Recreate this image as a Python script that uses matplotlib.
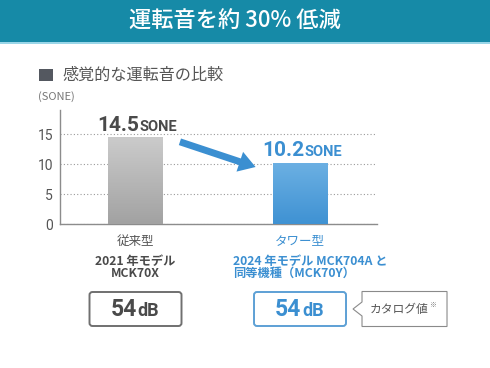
import numpy as np
import matplotlib
matplotlib.use('Agg')
from matplotlib import pyplot as plt
from matplotlib.colors import LinearSegmentedColormap
from matplotlib.patches import Rectangle, FancyBboxPatch, Polygon

plt.rcParams['font.family'] = ['Noto Sans CJK JP', 'DejaVu Sans']

TITLE = '運転音を約 30% 低減'
SUBTITLE = '感覚的な運転音の比較'
UNIT = '(SONE)'
categories = ['従来型', 'タワー型']
models = [['2021 年モデル', 'MCK70X'], ['2024 年モデル MCK704A と', '同等機種（MCK70Y）']]
sone = [14.5, 10.2]
db = [54, 54]
yticks = [0, 5, 10, 15]
note = 'カタログ値'

DARK = '#4a4a4a'
BLUE = '#3b8fd1'
HEAD = '#168aa7'
bar_grad = [('#cbcbcb', '#a2a2a2'), ('#6cb0e3', '#3f92d3')]
txt_col = [DARK, BLUE]
box_edge = ['#707070', '#5da0d5']
model_align = ['center', 'left']

W, H = 490, 368
fig = plt.figure(figsize=(W / 100, H / 100), dpi=100)
bg = fig.add_axes([0, 0, 1, 1])
bg.set_xlim(0, W)
bg.set_ylim(H, 0)
bg.axis('off')

# header band
bg.add_patch(Rectangle((0, 0), W, 42, color=HEAD, lw=0))
bg.add_patch(Rectangle((0, 42), W, 2, color='#9ad6e8', lw=0))
bg.text(235, 21, TITLE, color='white', fontsize=16, ha='center', va='center',
        fontweight='medium')

bg.add_patch(Rectangle((39, 69), 14, 12, color='#545860', lw=0))
bg.text(62, 75, SUBTITLE, fontsize=11.6, color='#555555', va='center')
bg.text(38, 97, UNIT, fontsize=8, color='#777777', va='center')

# chart
ax = fig.add_axes([60 / W, 1 - 224 / H, 317 / W, 114 / H])
ax.patch.set_alpha(0)
x = np.arange(len(categories))
xlim = (-0.459, 1.468)
ylim = (0, 19)

bars = ax.bar(x, sone, width=0.334, color=[c[1] for c in bar_grad], zorder=2)
grad = np.linspace(0, 1, 100).reshape(-1, 1)
for b, (top, bot) in zip(bars, bar_grad):
    cmap = LinearSegmentedColormap.from_list('g', [top, bot])
    im = ax.imshow(grad, cmap=cmap, aspect='auto', zorder=3,
                   extent=[b.get_x(), b.get_x() + b.get_width(), 0, b.get_height()])
    im.set_clip_path(b)

ax.set_xlim(*xlim)
ax.set_ylim(*ylim)
ax.set_yticks(yticks)
ax.set_xticks([])
ax.tick_params(axis='y', length=0, pad=5, labelsize=10, labelcolor='#555555')
for lab in ax.get_yticklabels():
    lab.set_family('Roboto')
ax.grid(axis='y', linestyle=(0, (1, 2)), color='#9a9a9a', lw=0.8, zorder=1)
for s in ['top', 'right']:
    ax.spines[s].set_visible(False)
for s in ['left', 'bottom']:
    ax.spines[s].set_color('#8c8c8c')
    ax.spines[s].set_linewidth(1)

for xi, v, c in zip(x, sone, txt_col):
    ax.annotate(f'{v}', xy=(xi, v), xytext=(4, 6.5), textcoords='offset pixels',
                ha='right', va='baseline', fontsize=15, fontweight='bold',
                family='Roboto', color=c, zorder=5)
    ax.annotate('SONE', xy=(xi, v), xytext=(4, 6.5), textcoords='offset pixels',
                ha='left', va='baseline', fontsize=10.5, fontweight='bold',
                family='Roboto', color=c, zorder=5)

# arrow between the bars
ax.annotate('', xy=(x[1] - 0.27, sone[1] - 0.7), xytext=(x[0] + 0.27, sone[0] - 0.8),
            arrowprops=dict(arrowstyle='simple,head_length=1.2,head_width=1.5,tail_width=0.5',
                            color=BLUE, lw=0, mutation_scale=10, shrinkA=0, shrinkB=0),
            zorder=6)

# labels and dB boxes below
cx = [ax.transData.transform((xi, 0))[0] for xi in x]
for i, c in enumerate(cx):
    col = txt_col[i]
    bg.text(c, 241, categories[i], fontsize=9, color='#555555' if i == 0 else BLUE,
            ha='center', va='center')
    tx = c if model_align[i] == 'center' else c - 67
    for j, line in enumerate(models[i]):
        bg.text(tx, 262 + j * 11.5, line, fontsize=8.8, fontweight='bold', color=col,
                ha=model_align[i], va='center')
    bg.add_patch(FancyBboxPatch((c - 46, 292), 92, 34,
                                boxstyle='round,pad=0,rounding_size=3',
                                fc='white', ec=box_edge[i], lw=1.4))
    bg.text(c + 1, 316.5, f'{db[i]}', fontsize=16.5, fontweight='bold', family='Roboto',
            color=col, ha='right', va='baseline')
    bg.text(c + 2, 316.5, 'dB', fontsize=13, fontweight='bold', family='Roboto',
            color=col, ha='left', va='baseline')

# catalog callout
ap = cx[1] + 53
cl = ap + 9
bg.add_patch(Polygon([(cl, 291.5), (cl + 85, 291.5), (cl + 85, 326.5), (cl, 326.5),
                      (cl, 316), (ap, 309), (cl, 302)], closed=True,
                     fc='white', ec='#8a8a8a', lw=0.8))
bg.text(cl + 8, 309, note, fontsize=8.5, color='#555555', va='center', ha='left')
bg.text(cl + 67, 305, '※', fontsize=5, color='#777777', va='center', ha='left')

fig.savefig('out.png', dpi=100)
